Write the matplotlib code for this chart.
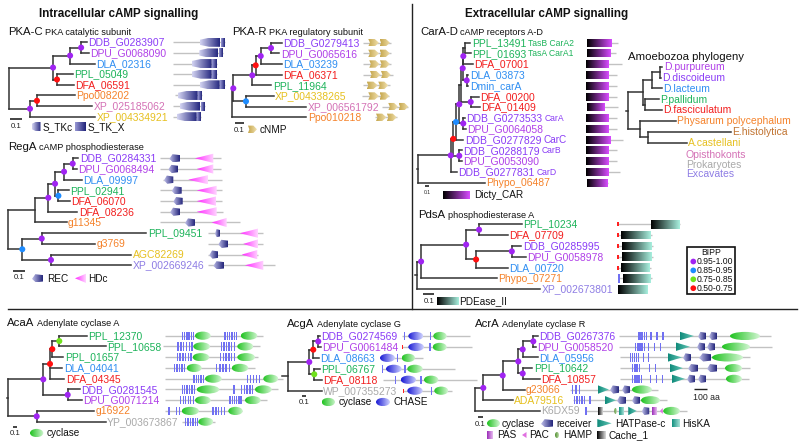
import numpy as np
import matplotlib
matplotlib.use("Agg")
import matplotlib.pyplot as plt
from matplotlib.patches import Polygon, Rectangle, Ellipse
from matplotlib.collections import LineCollection
from matplotlib.colors import LinearSegmentedColormap

plt.rcParams['font.family'] = ['Liberation Sans', 'DejaVu Sans']

# ============================================================ DATA
# trees (Newick, branch lengths in substitutions/site, internal labels = BIPP class)
PKAC_TREE = ("((((DDB_G0283907:0.05,DPU_G0068090:0.067)p:0.092,DLA_02316:0.208)p:0.142,"
             "(PPL_05049:0.133,DFA_06591:0.142)r:0.033)p:0.367,"
             "((Ppo008202:0.317,XP_025185062:0.458)r:0.058,XP_004334921:0.542)p:0.175)")
PKAR_TREE = ("((((((DDB_G0279413:0.117,DPU_G0065616:0.094)p:0.114,DLA_03239:0.231)p:0.056,"
             "DFA_06371:0.287)r:0.038,PPL_11964:0.213)p:0.211,"
             "(XP_004338265:0.306,XP_006561792:0.672)b:0.141)p:0.011,Ppo010218:0.824)")
REGA_TREE = ("((((((DDB_G0284331:0.048,DPU_G0068494:0.032)p:0.072,DLA_09997:0.146)p:0.075,"
             "(PPL_02941:0.085,DFA_06070:0.093)b:0.028)p:0.056,DFA_08236:0.243)p:0.111,"
             "g11345:0.263):0.225,((PPL_09451:0.873,g3769:0.448)p:0.162,"
             "(AGC82269:0.671,XP_002669246:0.671)p:0.239)b:0.119)")
CAR_TREE = ("(((((((((PPL_13491:0.149,PPL_01693:0.157):0.049,DFA_07001:0.263)p:0.017,"
            "(DLA_03873:0.051,Dmin_carA:0.051)p:0.114)p:0.049,"
            "(DFA_00200:0.223,DFA_01409:0.271)p:0.277):0.049,"
            "(DDB_G0273533:0.054,DPU_G0064058:0.083)p:0.114)p:0.094,DDB_G0277829:0.214)b:0.077,"
            "(DDB_G0288179:0.071,DPU_G0053090:0.071)p:0.171)r:0.074,DDB_G0277831:0.174)p:0.926,"
            "Phypo_06487:1.911):0.03")
AMOEBOZOA_TREE = ("((((D.purpureum:0.025,D.discoideum:0.012):0.083,D.lacteum:0.101):0.084,"
                  "(P.pallidum:0.135,D.fasciculatum:0.168):0.017):0.15,"
                  "(Physarum polycephalum:0.358,(E.histolytica:0.829,A.castellani:0.385):0.083):0.117):0.02")
PDSA_TREE = ("((((PPL_10234:0.4,DFA_07709:0.266)p:0.121,((DDB_G0285995:0.089,DPU_G0058978:0.132)p:0.334,"
             "DLA_00720:0.297)r:0.093)p:0.421,Phypo_07271:0.708)p:0.035,XP_002673801:1.149):0.02")
ACAA_TREE = ("(((((PPL_12370:0.809,PPL_10658:1.368)g:0.206,PPL_01657:0.329)r:0.068,"
             "DLA_04041:0.368,DFA_04345:0.426)r:0.197,(DDB_G0281545:0.368,DPU_G0071214:0.415)p:0.718)p:1.029,"
             "(g16922:1.691,YP_003673867:2.032)p:0.835):0.05")
ACGA_TREE = ("((((DDB_G0274569:0.044,DPU_G0061484:0.067)p:0.116,DLA_08663:0.137)r:0.093,"
             "(PPL_06767:0.137,DFA_08118:0.174)g:0.116)p:0.488,WP_007355273:0.779):0.15")
ACRA_TREE = ("((((((DDB_G0267376:0.084,DPU_G0058520:0.05)p:0.212,DLA_05956:0.302)p:0.088,"
             "(PPL_10642:0.196,DFA_10857:0.35)p:0.088)p:0.312,g23066:0.436)p:0.388,"
             "ADA79516:0.584)p:0.166,K6DX59:1.304)")

# domain architectures: protein start, end, [(domain, start, end[, n helices])] in aa
PKAC_ARCH = {
    'DDB_G0283907': (30, 550, [('S_TKc', 300, 500), ('S_TK_X', 510, 550)]),
    'DPU_G0068090': (30, 527, [('S_TKc', 293, 480), ('S_TK_X', 487, 527)]),
    'DLA_02316': (30, 467, [('S_TKc', 217, 417), ('S_TK_X', 423, 467)]),
    'PPL_05049': (30, 467, [('S_TKc', 217, 417), ('S_TK_X', 423, 467)]),
    'DFA_06591': (30, 550, [('S_TKc', 300, 497), ('S_TK_X', 503, 550)]),
    'Ppo008202': (50, 317, [('S_TKc', 77, 277), ('S_TK_X', 283, 317)]),
    'XP_025185062': (30, 350, [('S_TKc', 100, 300), ('S_TK_X', 310, 350)]),
    'XP_004334921': (30, 310, [('S_TKc', 67, 267), ('S_TK_X', 273, 310)]),
}
PKAR_ARCH = {
    'DDB_G0279413': (33, 310, [('cNMP', 83, 190), ('cNMP', 195, 300)]),
    'DPU_G0065616': (33, 310, [('cNMP', 83, 190), ('cNMP', 195, 300)]),
    'DLA_03239': (33, 305, [('cNMP', 93, 195), ('cNMP', 200, 300)]),
    'DFA_06371': (33, 333, [('cNMP', 100, 205), ('cNMP', 210, 307)]),
    'PPL_11964': (33, 295, [('cNMP', 67, 178), ('cNMP', 183, 283)]),
    'XP_004338265': (17, 293, [('cNMP', 83, 190), ('cNMP', 195, 293)]),
    'XP_006561792': (217, 483, [('cNMP', 283, 380), ('cNMP', 385, 483)]),
    'Ppo010218': (150, 367, [('cNMP', 160, 264), ('cNMP', 269, 367)]),
}
REGA_ARCH = {
    'DDB_G0284331': (50, 660, [('REC', 143, 250), ('HDc', 400, 583)]),
    'DPU_G0068494': (50, 660, [('REC', 133, 233), ('HDc', 417, 583)]),
    'DLA_09997': (80, 670, [('REC', 90, 183), ('HDc', 333, 533)]),
    'PPL_02941': (50, 670, [('REC', 167, 267), ('HDc', 417, 617)]),
    'DFA_06070': (50, 670, [('REC', 183, 277), ('HDc', 417, 610)]),
    'DFA_08236': (50, 680, [('REC', 150, 250), ('HDc', 417, 617)]),
    'g11345': (50, 850, [('REC', 300, 400), ('HDc', 567, 717)]),
    'PPL_09451': (533, 1083, [('REC', 600, 650), ('HDc', 850, 1030)]),
    'g3769': (533, 1083, [('REC', 633, 733), ('HDc', 883, 1033)]),
    'AGC82269': (533, 1033, [('REC', 543, 633), ('HDc', 867, 1023)]),
    'XP_002669246': (533, 1200, [('REC', 583, 690), ('HDc', 900, 1083)]),
}
CAR_ARCH = {
    'PPL_13491': (70, 380, [('Dicty_CAR', 70, 320)]),
    'PPL_01693': (70, 360, [('Dicty_CAR', 70, 310)]),
    'DFA_07001': (60, 420, [('Dicty_CAR', 60, 290)]),
    'DLA_03873': (60, 370, [('Dicty_CAR', 60, 290)]),
    'Dmin_carA': (60, 370, [('Dicty_CAR', 60, 290)]),
    'DFA_00200': (60, 370, [('Dicty_CAR', 60, 290)]),
    'DFA_01409': (70, 380, [('Dicty_CAR', 70, 250)]),
    'DDB_G0273533': (60, 370, [('Dicty_CAR', 60, 290)]),
    'DPU_G0064058': (60, 370, [('Dicty_CAR', 60, 290)]),
    'DDB_G0277829': (60, 430, [('Dicty_CAR', 60, 310)]),
    'DDB_G0288179': (60, 370, [('Dicty_CAR', 60, 290)]),
    'DPU_G0053090': (60, 370, [('Dicty_CAR', 60, 290)]),
    'DDB_G0277831': (60, 400, [('Dicty_CAR', 60, 290)]),
    'Phypo_06487': (70, 280, [('Dicty_CAR', 70, 280)]),
}
PDSA_ARCH = {
    'PPL_10234': (20, 650, [('SP', 15, 35), ('PDEase_II', 357, 643)]),
    'DFA_07709': (20, 370, [('SP', 15, 35), ('PDEase_II', 57, 350)]),
    'DDB_G0285995': (20, 380, [('SP', 15, 35), ('PDEase_II', 70, 367)]),
    'DPU_G0058978': (20, 380, [('SP', 15, 35), ('PDEase_II', 70, 367)]),
    'DLA_00720': (20, 360, [('SP', 15, 35), ('PDEase_II', 57, 343)]),
    'Phypo_07271': (30, 370, [('TM', 33, 45), ('PDEase_II', 77, 357)]),
    'XP_002673801': (27, 323, [('PDEase_II', 27, 323)]),
}
ACAA_ARCH = {
    'PPL_12370': (50, 1033, [('TM', 217, 343, 6), ('cyclase', 350, 507), ('TM', 643, 773, 6), ('cyclase', 807, 973)]),
    'PPL_10658': (30, 1000, [('TM', 173, 327, 6), ('cyclase', 333, 500), ('TM', 607, 750, 6), ('cyclase', 773, 933)]),
    'PPL_01657': (50, 983, [('TM', 167, 317, 6), ('cyclase', 327, 493), ('TM', 600, 750, 6), ('cyclase', 773, 950)]),
    'DLA_04041': (50, 950, [('TM', 140, 250, 5), ('cyclase', 267, 417), ('TM', 560, 700, 5), ('cyclase', 717, 883)]),
    'DFA_04345': (50, 1233, [('TM', 333, 440, 5), ('cyclase', 450, 617), ('TM', 867, 1000, 5), ('cyclase', 1033, 1183)]),
    'DDB_G0281545': (50, 1183, [('TM', 217, 350, 6), ('cyclase', 367, 593), ('TM', 727, 750, 1), ('TM', 807, 933, 5), ('cyclase', 950, 1117)]),
    'DPU_G0071214': (50, 1067, [('TM', 200, 340, 6), ('cyclase', 350, 507), ('TM', 693, 817, 6), ('cyclase', 850, 1007)]),
    'g16922': (50, 817, [('TM', 77, 100, 1), ('TM', 160, 200, 2), ('cyclase', 217, 390), ('TM', 523, 650, 5), ('cyclase', 683, 827)]),
    'YP_003673867': (217, 550, [('TM', 250, 383, 6), ('cyclase', 383, 533)]),
}
ACGA_ARCH = {
    'DDB_G0274569': (267, 950, [('TM', 290, 300), ('CHASE', 333, 483), ('TM', 552, 562), ('cyclase', 583, 717)]),
    'DPU_G0061484': (267, 967, [('SP', 267, 283), ('CHASE', 333, 490), ('TM', 545, 555), ('cyclase', 577, 717)]),
    'DLA_08663': (50, 483, [('CHASE', 50, 200), ('TM', 218, 228), ('cyclase', 267, 400)]),
    'PPL_06767': (67, 800, [('TM', 72, 82), ('CHASE', 110, 267), ('TM', 295, 305), ('cyclase', 323, 477)]),
    'DFA_08118': (83, 1017, [('TM', 202, 212), ('CHASE', 257, 410), ('TM', 455, 465), ('cyclase', 490, 633)]),
    'WP_007355273': (277, 767, [('SP', 277, 293), ('CHASE', 323, 477), ('TM', 562, 572), ('cyclase', 593, 733)]),
}
ACRA_ARCH = {
    'DDB_G0267376': (434, 1646, [('TM', 586, 658, 5), ('TM', 684, 692), ('TM', 732, 740), ('TM', 780, 788),
                                 ('HATPase_c', 920, 1032), ('REC', 1064, 1128), ('REC', 1152, 1216), ('cyclase', 1320, 1560)]),
    'DPU_G0058520': (432, 1654, [('TM', 560, 640, 5), ('TM', 664, 672), ('TM', 712, 720), ('TM', 760, 768),
                                 ('HATPase_c', 888, 1000), ('REC', 1056, 1120), ('REC', 1136, 1200), ('cyclase', 1256, 1480)]),
    'DLA_05956': (440, 1480, [('TM', 520, 592, 5), ('TM', 624, 632), ('TM', 664, 672),
                              ('HATPase_c', 824, 936), ('REC', 944, 1008), ('REC', 1072, 1168), ('cyclase', 1176, 1424)]),
    'PPL_10642': (440, 1480, [('TM', 536, 600, 5), ('TM', 672, 680), ('TM', 720, 728),
                              ('HATPase_c', 840, 944), ('REC', 984, 1064), ('REC', 1136, 1216), ('cyclase', 1280, 1416)]),
    'DFA_10857': (440, 1472, [('TM', 536, 616, 5), ('TM', 680, 688), ('TM', 728, 736), ('TM', 776, 784),
                              ('HATPase_c', 856, 960), ('REC', 976, 1040), ('REC', 1064, 1128), ('cyclase', 1288, 1416)]),
    'g23066': (40, 744, [('TM', 56, 120, 3), ('HATPase_c', 264, 352), ('REC', 360, 432), ('REC', 456, 520), ('cyclase', 536, 696)]),
    'ADA79516': (62, 814, [('TM', 72, 160, 5), ('TM', 196, 204), ('HATPase_c', 320, 408), ('REC', 416, 488),
                           ('REC', 536, 600), ('cyclase', 608, 760)]),
    'K6DX59': (160, 974, [('TM', 164, 172), ('Cache_1', 266, 302), ('HAMP', 394, 414), ('HisKA', 432, 472),
                          ('HATPase_c', 506, 574), ('REC', 614, 674), ('PAS', 698, 734), ('PAC', 760, 782),
                          ('cyclase', 786, 920)]),
}

SUFFIX = {'PPL_13491': 'TasB CarA2', 'PPL_01693': 'TasA CarA1', 'DDB_G0273533': 'CarA',
          'DDB_G0277829': 'CarC', 'DDB_G0288179': 'CarB', 'DDB_G0277831': 'CarD'}
BIPP_CLASSES = ['0.95-1.00', '0.85-0.95', '0.75-0.85', '0.50-0.75']
BIPP_CODES = ['p', 'b', 'g', 'r']
OUTGROUP_NAMES = ['Opisthokonts', 'Prokaryotes', 'Excavates']

# ============================================================ STYLE
SUPPORT_COLOURS = {'p': '#a024f2', 'b': '#1e8cff', 'g': '#70e21c', 'r': '#ff1010'}
SPECIES_COLOURS = {'Phypo': '#f5822a', 'Ppo': '#f5822a', 'Dmin': '#2f8ef2', 'DDB': '#8a3cf6',
                   'DPU': '#b040e8', 'DLA': '#2f8ef2', 'PPL': '#1db35a', 'DFA': '#f21e1e', 'g': '#f5822a'}
GROUP_COLOURS = {'opis': '#d472b6', 'acan': '#e6c01f', 'exca': '#8e7de4', 'prok': '#a9a9a9'}
GROUP_OF = {'XP_025185062': 'opis', 'XP_006561792': 'opis', 'XP_004334921': 'acan', 'XP_004338265': 'acan',
            'AGC82269': 'acan', 'ADA79516': 'acan', 'XP_002669246': 'exca', 'XP_002673801': 'exca',
            'WP_007355273': 'prok', 'YP_003673867': 'prok', 'K6DX59': 'prok'}
AMOEBOZOA_COLOURS = {'D.purpureum': '#b040e8', 'D.discoideum': '#8a3cf6', 'D.lacteum': '#2f8ef2',
                     'P.pallidum': '#1db35a', 'D.fasciculatum': '#f21e1e',
                     'Physarum polycephalum': '#f5822a', 'E.histolytica': '#c0722f',
                     'A.castellani': '#e6c01f'}
OUTGROUP_COLOURS = ['#d472b6', '#a9a9a9', '#8e7de4']
GRAD = {
    'S_TKc': ('#d4d4f2', '#25287f'), 'S_TK_X': ('#9a9ad6', '#1f2278'),
    'REC': ('#c0c0ea', '#22247a'), 'cNMP': ('#c5a64c', '#f1e1b0'),
    'HDc': ('#ff28ff', '#ffd4ff'), 'Dicty_CAR': ('#000000', '#d84cff'),
    'PDEase_II': ('#000000', '#a8efde'), 'cyclase': ('#1fc21f', '#d2f6d2'),
    'CHASE': ('#1a1ad4', '#d0d3ff'), 'HATPase_c': ('#0e8a7a', '#66c6b6'),
    'HisKA': ('#11907f', '#a8e2d8'), 'PAS': ('#9a2ab8', '#e8bcf0'),
    'Cache_1': ('#000000', '#dedede'), 'HAMP': ('#4f8c2e', '#bcdca8'),
}
TREE_COL = '#333333'
LINE_GREY = '#c2c2c2'
TM_COL = '#7070f2'

# panel layouts
PANELS = [
    dict(tree=PKAC_TREE, x0=9, y0=42.3, dy=10.63, ppu=120, arch=PKAC_ARCH, ax0=170, ppa=0.1,
         title=('PKA-C', 'PKA catalytic subunit', 8, 32), bar=(10, 119)),
    dict(tree=PKAR_TREE, x0=232.3, y0=42.7, dy=10.66, ppu=90, arch=PKAR_ARCH, ax0=360, ppa=0.1,
         title=('PKA-R', 'PKA regulatory subunit', 232, 32), bar=(235, 123.3)),
    dict(tree=REGA_TREE, x0=8, y0=158.3, dy=10.7, ppu=120, arch=REGA_ARCH, ax0=155, ppa=0.1,
         title=('RegA', 'cAMP phosphodiesterase', 8, 147), bar=(13, 270.7)),
    dict(tree=CAR_TREE, x0=417.25, y0=42.7, dy=10.77, ppu=35, arch=CAR_ARCH, ax0=580, ppa=0.1,
         title=('CarA-D', 'cAMP receptors A-D', 420, 31.7), bar=(425, 185.7), barfs=3.6),
    dict(tree=AMOEBOZOA_TREE, x0=626.3, y0=66.7, dy=10.86, ppu=100, arch={}, ax0=0, ppa=0.1,
         title=None, bar=None),
    dict(tree=PDSA_TREE, x0=415.2, y0=224.3, dy=10.83, ppu=107, arch=PDSA_ARCH, ax0=615, ppa=0.1,
         title=('PdsA', 'phosphodiesterase A', 418.3, 215), bar=(423.3, 294.3)),
    dict(tree=ACAA_TREE, x0=6.6, y0=335.7, dy=10.75, ppu=34, arch=ACAA_ARCH, ax0=160, ppa=0.1,
         title=('AcaA', 'Adenylate cyclase A', 7.3, 323.3), bar=(13.3, 426.7)),
    dict(tree=ACGA_TREE, x0=281.85, y0=336, dy=10.94, ppu=43, arch=ACGA_ARCH, ax0=375, ppa=0.1,
         title=('AcgA', 'Adenylate cyclase G', 287.3, 324), bar=(301.7, 396)),
    dict(tree=ACRA_TREE, x0=475, y0=336, dy=10.71, ppu=50, arch=ACRA_ARCH, ax0=565, ppa=0.125,
         title=('AcrA', 'Adenylate cyclase R', 475, 324), bar=(477.5, 417)),
]
LEGENDS = [
    ('S_TKc', 31.5, 40.5, 126.5, 'S_TKc', 42.5), ('S_TK_X', 75, 86, 126.5, 'S_TK_X', 88),
    ('cNMP', 248, 257, 129.3, 'cNMP', 260),
    ('REC', 32, 43, 278.3, 'REC', 46.7), ('HDc', 75, 86, 278.3, 'HDc', 87.8),
    ('Dicty_CAR', 443.3, 470, 195, 'Dicty_CAR', 474),
    ('PDEase_II', 436.7, 458.3, 301, 'PDEase_II', 459.3),
    ('cyclase', 30, 43.3, 433, 'cyclase', 46.7),
    ('cyclase', 321.7, 335, 402, 'cyclase', 338.3), ('CHASE', 376, 390, 402, 'CHASE', 393.3),
    ('cyclase', 487, 500, 423.3, 'cyclase', 501.5), ('REC', 541, 553, 423.3, 'receiver', 556),
    ('HATPase_c', 597.3, 611.7, 423.3, 'HATPase-c', 615), ('HisKA', 672, 679.5, 423.3, 'HisKA', 682),
    ('PAS', 487, 493, 435, 'PAS', 496.7), ('PAC', 522, 526.5, 435, 'PAC', 529.3),
    ('HAMP', 555, 559, 435, 'HAMP', 562.7), ('Cache_1', 597.3, 606, 435, 'Cache_1', 608.3),
]

# ============================================================ DRAWING
fig = plt.figure(figsize=(8, 4.48), dpi=100)
ax = fig.add_axes([0, 0, 1, 1])
ax.set_xlim(0, 800)
ax.set_ylim(448, 0)
ax.axis('off')
ax.set_autoscale_on(False)
renderer = fig.canvas.get_renderer()
GIMG = np.linspace(0, 1, 96).reshape(1, -1)


def right_edge(t):
    bb = t.get_window_extent(renderer=renderer)
    return ax.transData.inverted().transform((bb.x1, bb.y0))[0]


def grad_fill(patch, kind, xa, xb, ya, yb, z=3):
    ax.add_patch(patch)
    c0, c1 = GRAD[kind]
    cmap = LinearSegmentedColormap.from_list(kind, [c0, c1])
    im = ax.imshow(GIMG, cmap=cmap, extent=(xa, xb, yb, ya), aspect='auto',
                   interpolation='bilinear', zorder=z)
    im.set_clip_path(patch)


def draw_domain(kind, xa, xb, yc, n=1):
    w = xb - xa
    kw = dict(fc='none', ec='none', zorder=3)
    if kind == 'TM':
        if n == 1:
            xs = [0.5 * (xa + xb)]
        else:
            xs = np.linspace(xa + 0.7, xb - 0.7, n)
        for x in xs:
            ax.add_patch(Rectangle((x - 0.7, yc - 4.1), 1.4, 8.2, fc=TM_COL, ec='none', zorder=3))
        return
    if kind == 'SP':
        ax.add_patch(Rectangle((xa, yc - 2.0), max(w, 1.4), 4.0, fc='#ff2020', ec='none', zorder=3))
        return
    h = 4.2
    if kind == 'S_TKc':
        h = 4.5
        pts = [(xa, yc - 2.6), (xa + 0.45 * w, yc - h), (xb, yc - h), (xb, yc + h),
               (xa + 0.45 * w, yc + h), (xa, yc + 2.6)]
        p = Polygon(pts, closed=True, **kw)
    elif kind == 'REC':
        h = 4.1
        pts = [(xa, yc + 0.6), (xa + 0.3 * w, yc - h), (xb, yc - 3.2), (xb, yc + 3.2), (xa + 0.35 * w, yc + h)]
        p = Polygon(pts, closed=True, **kw)
    elif kind == 'cNMP':
        h = 3.7
        pts = [(xa, yc - h), (xa + 0.6 * w, yc - h), (xb, yc), (xa + 0.6 * w, yc + h), (xa, yc + h),
               (xa + 0.15 * w, yc)]
        p = Polygon(pts, closed=True, **kw)
    elif kind == 'HDc':
        h = 4.6
        p = Polygon([(xa, yc), (xb, yc - h), (xb, yc + h)], closed=True, **kw)
    elif kind == 'HATPase_c':
        h = 4.2
        p = Polygon([(xa, yc - h), (xb, yc), (xa, yc + h)], closed=True, **kw)
    elif kind == 'PAC':
        h = 3.0
        ax.add_patch(Polygon([(xb, yc - h), (xa, yc), (xb, yc + h)], closed=True,
                             fc='#e070e0', ec='none', zorder=3))
        return
    elif kind in ('cyclase', 'CHASE', 'HAMP'):
        h = 3.0 if kind == 'HAMP' else 4.1
        p = Ellipse((0.5 * (xa + xb), yc), w, 2 * h, **kw)
    else:
        h = 4.3 if kind in ('PDEase_II',) else (4.0 if kind in ('Dicty_CAR', 'S_TK_X') else 3.8)
        if kind == 'S_TK_X':
            h = 4.5
        p = Rectangle((xa, yc - h), w, 2 * h, **kw)
    grad_fill(p, kind, xa, xb, yc - h, yc + h)


def colour_of(name):
    if name in GROUP_OF:
        return GROUP_COLOURS[GROUP_OF[name]]
    if name in AMOEBOZOA_COLOURS:
        return AMOEBOZOA_COLOURS[name]
    for k, c in SPECIES_COLOURS.items():
        if name.startswith(k):
            return c
    return '#333333'


def parse_newick(s):
    s = s.strip().rstrip(';')
    i = [0]

    def node():
        nd = {'ch': [], 'name': '', 'len': 0.0}
        if s[i[0]] == '(':
            i[0] += 1
            while True:
                nd['ch'].append(node())
                c = s[i[0]]
                i[0] += 1
                if c == ')':
                    break
        j = i[0]
        while i[0] < len(s) and s[i[0]] not in ':,)':
            i[0] += 1
        nd['name'] = s[j:i[0]]
        if i[0] < len(s) and s[i[0]] == ':':
            i[0] += 1
            j = i[0]
            while i[0] < len(s) and s[i[0]] not in ',)':
                i[0] += 1
            nd['len'] = float(s[j:i[0]])
        return nd
    return node()


def n_leaves(nd):
    return 1 if not nd['ch'] else sum(n_leaves(c) for c in nd['ch'])


def layout(nd, px, ppu, ys, k):
    nd['px'] = px
    nd['x'] = px + nd['len'] * ppu
    if nd['ch']:
        for c in nd['ch']:
            layout(c, nd['x'], ppu, ys, k)
        nd['y'] = 0.5 * (nd['ch'][0]['y'] + nd['ch'][-1]['y'])
    else:
        nd['y'] = ys[k[0]]
        k[0] += 1


def draw_tree(spec):
    root = parse_newick(spec['tree'])
    ys = spec['y0'] + spec['dy'] * np.arange(n_leaves(root))
    layout(root, spec['x0'], spec['ppu'], ys, [0])
    segs, dots, leaf_y = [], [], {}

    def walk(nd):
        if nd['x'] - nd['px'] > 0.05:
            segs.append([(nd['px'], nd['y']), (nd['x'], nd['y'])])
        if nd['ch']:
            segs.append([(nd['x'], nd['ch'][0]['y']), (nd['x'], nd['ch'][-1]['y'])])
            if nd['name'] in SUPPORT_COLOURS:
                dots.append((nd['x'], nd['y'], SUPPORT_COLOURS[nd['name']]))
            for c in nd['ch']:
                walk(c)
        else:
            name = nd['name']
            leaf_y[name] = nd['y']
            col = colour_of(name)
            t = ax.text(nd['x'] + 1.4, nd['y'] + 0.3, name, fontsize=7.5, color=col,
                        va='center', ha='left', zorder=5)
            if name in SUFFIX:
                fs = 7.2 if SUFFIX[name] == 'CarC' else 6.2
                ax.text(right_edge(t) + 2.2, nd['y'] + 0.5, SUFFIX[name], fontsize=fs, color=col,
                        va='center', ha='left', zorder=5)
    walk(root)
    ax.add_collection(LineCollection(segs, colors=TREE_COL, linewidths=1.1,
                                     capstyle='projecting', zorder=4))
    if dots:
        ax.scatter([d[0] for d in dots], [d[1] for d in dots], s=19, c=[d[2] for d in dots],
                   edgecolors='none', zorder=6)
    return leaf_y


def draw_arch(arch, leaf_y, ax0, ppa):
    for name, (s, e, doms) in arch.items():
        y = leaf_y[name]
        ax.plot([ax0 + s * ppa, ax0 + e * ppa], [y, y], color=LINE_GREY, lw=1.0,
                solid_capstyle='butt', zorder=1)
        for d in doms:
            draw_domain(d[0], ax0 + d[1] * ppa, ax0 + d[2] * ppa, y, d[3] if len(d) > 3 else 1)


for spec in PANELS:
    ly = draw_tree(spec)
    draw_arch(spec['arch'], ly, spec['ax0'], spec['ppa'])
    if spec['title']:
        ttl, sub, tx, ty = spec['title']
        t = ax.text(tx, ty, ttl, fontsize=8.2, color='#111111', va='center', ha='left')
        ax.text(right_edge(t) + 2.5, ty + 0.4, sub, fontsize=6.6, color='#111111', va='center', ha='left')
    if spec['bar']:
        bx, by = spec['bar']
        L = 0.1 * spec['ppu']
        ax.plot([bx, bx + L], [by, by], color='#222222', lw=1.2, solid_capstyle='butt')
        ax.text(bx + L / 2, by + 7.0, '0.1', fontsize=spec.get('barfs', 5.6), color='#222222',
                ha='center', va='center')

# domain legends
for kind, xa, xb, yc, lab, tx in LEGENDS:
    draw_domain(kind, xa, xb, yc)
    ax.text(tx, yc + 0.3, lab, fontsize=7.2, color='#111111', va='center', ha='left')

# 100 aa scale
ax.plot([694.3, 694.3 + 100 * 0.125], [389.5, 389.5], color='#222222', lw=1.0, solid_capstyle='butt')
ax.text(693.3, 397.5, '100 aa', fontsize=6.3, color='#222222', va='center', ha='left')

# amoebozoa title and outgroup key
ax.text(628.3, 56.7, 'Amoebozoa phylogeny', fontsize=8.2, color='#111111', va='center', ha='left')
for i, (nm, c) in enumerate(zip(OUTGROUP_NAMES, OUTGROUP_COLOURS)):
    ax.text(686, 155 + 9.7 * i, nm, fontsize=7.5, color=c, va='center', ha='left')

# BIPP key
ax.add_patch(Rectangle((686.7, 246.7), 48.3, 47.6, fc='white', ec='#111111', lw=1.2, zorder=2))
ax.text(711, 252.7, 'BIPP', fontsize=6.2, color='#111111', ha='center', va='center', zorder=3)
for i, (lab, code) in enumerate(zip(BIPP_CLASSES, BIPP_CODES)):
    yy = 261.5 + 8.9 * i
    ax.scatter([693.3], [yy], s=17, c=SUPPORT_COLOURS[code], edgecolors='none', zorder=3)
    ax.text(696.8, yy + 0.3, lab, fontsize=6.2, color='#111111', va='center', ha='left', zorder=3)

# section headers and dividers
ax.text(119, 14, 'Intracellular cAMP signalling', fontsize=8.4, fontweight='bold',
        color='#111111', ha='center', va='center')
ax.text(547, 14, 'Extracellular cAMP signalling', fontsize=8.4, fontweight='bold',
        color='#111111', ha='center', va='center')
ax.plot([412, 412], [4, 309], color='#222222', lw=1.0)
ax.plot([8, 797], [309, 309], color='#222222', lw=1.0)

ax.set_xlim(0, 800)
ax.set_ylim(448, 0)
fig.savefig('out.png', dpi=100)
